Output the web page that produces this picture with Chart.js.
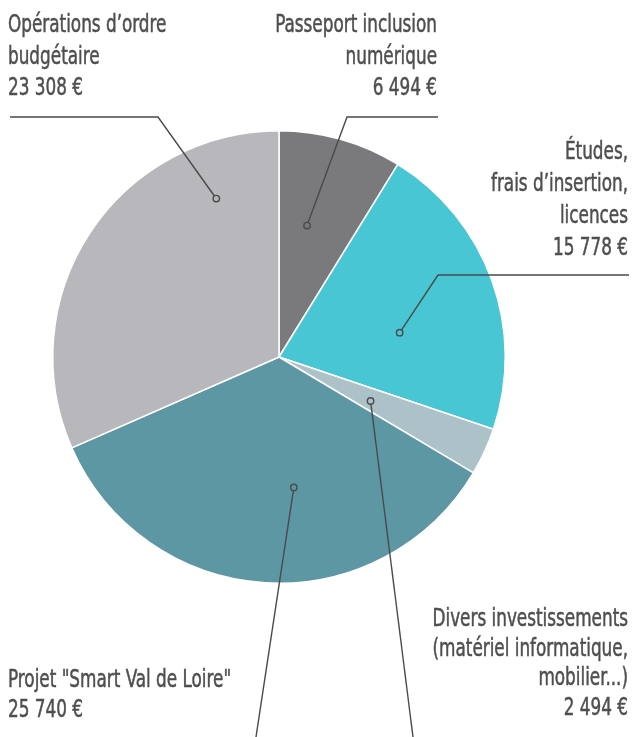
<!DOCTYPE html>
<html>
<head>
<meta charset="utf-8">
<script src="https://cdn.jsdelivr.net/npm/chart.js@4"></script>
<style>
  html, body { margin: 0; padding: 0; background: #fff; }
  #wrap { width: 633px; height: 737px; position: relative; }
</style>
</head>
<body>
<div id="wrap"><canvas id="budget"></canvas></div>
<script>
// data
const categories = [
  "Passeport inclusion numérique",
  "Études, frais d’insertion, licences",
  "Divers investissements (matériel informatique, mobilier...)",
  "Projet \"Smart Val de Loire\"",
  "Opérations d’ordre budgétaire"
]
const amounts = [6494, 15778, 2494, 25740, 23308]
const amountLabels = ["6 494 €", "15 778 €", "2 494 €", "25 740 €", "23 308 €"]
const labelLines = [
  ["Passeport inclusion", "numérique"],
  ["Études,", "frais d’insertion,", "licences"],
  ["Divers investissements", "(matériel informatique,", "mobilier...)"],
  ["Projet \"Smart Val de Loire\""],
  ["Opérations d’ordre", "budgétaire"]
]
const colors = ["#7a797b", "#48c6d3", "#adc2c8", "#5e97a4", "#b8b8bc"]

// where the label texts and leader lines sit
const callouts = [
  { t: 0.38, r: 0.594, x: 437, align: "right", y: 32, lh: 31.5, path: [[347, 117], [438, 117]] },
  { t: 0.61, r: 0.544, x: 628, align: "right", y: 159, lh: 32, path: [[438, 275], [629, 275]] },
  { t: 0.58, r: 0.449, x: 628, align: "right", y: 626, lh: 29.5, path: [[413, 737]] },
  { t: 0.42, r: 0.58, x: 8, align: "left", y: 687, lh: 30, path: [[256, 737]] },
  { t: 0.81, r: 0.753, x: 8, align: "left", y: 32, lh: 31.5, path: [[158, 117], [10, 117]] }
]

const textFont = "24px 'Liberation Sans Narrow', 'DejaVu Sans Condensed', sans-serif"
const squeeze = 0.78

const calloutPlugin = {
    id: "callouts",
    afterDraw(chart) {
        const ctx = chart.ctx
        const arcs = chart.getDatasetMeta(0).data
        ctx.save()
        arcs.forEach((arc, i) => {
            const c = callouts[i]
            const p = arc.getProps(["x", "y", "startAngle", "endAngle", "outerRadius"], true)
            const a = p.startAngle + c.t * (p.endAngle - p.startAngle)
            const ax = p.x + Math.cos(a) * p.outerRadius * c.r
            const ay = p.y + Math.sin(a) * p.outerRadius * c.r

            // leader line
            ctx.strokeStyle = "#4a4a4c"
            ctx.lineWidth = 1.4
            ctx.beginPath()
            const dx = c.path[0][0] - ax, dy = c.path[0][1] - ay
            const d = Math.hypot(dx, dy)
            ctx.moveTo(ax + dx / d * 3.2, ay + dy / d * 3.2)
            c.path.forEach(pt => ctx.lineTo(pt[0], pt[1]))
            ctx.stroke()
            ctx.beginPath()
            ctx.arc(ax, ay, 3.2, 0, Math.PI * 2)
            ctx.stroke()

            // label text
            ctx.fillStyle = "#4f4f51"
            ctx.strokeStyle = "#4f4f51"
            ctx.lineWidth = 0.5
            ctx.font = textFont
            ctx.textAlign = c.align
            ctx.textBaseline = "alphabetic"
            const lines = labelLines[i].concat([amountLabels[i]])
            lines.forEach((line, k) => {
                ctx.save()
                ctx.translate(c.x, c.y + k * c.lh)
                ctx.scale(squeeze, 1)
                ctx.fillText(line, 0, 0)
                ctx.strokeText(line, 0, 0)
                ctx.restore()
            })
        })
        ctx.restore()
    }
}

document.addEventListener("DOMContentLoaded", () => {
    new Chart("budget", {
        type: "pie",
        data: {
            labels: categories,
            datasets: [{
                data: amounts,
                backgroundColor: colors,
                borderColor: "#ffffff",
                borderWidth: 1.5
            }]
        },
        options: {
            responsive: true,
            maintainAspectRatio: false,
            animation: false,
            layout: { padding: { top: 130, bottom: 153, left: 52, right: 127 } },
            plugins: {
                legend: { display: false },
                tooltip: { enabled: false }
            }
        },
        plugins: [calloutPlugin]
    })
})
</script>
</body>
</html>
